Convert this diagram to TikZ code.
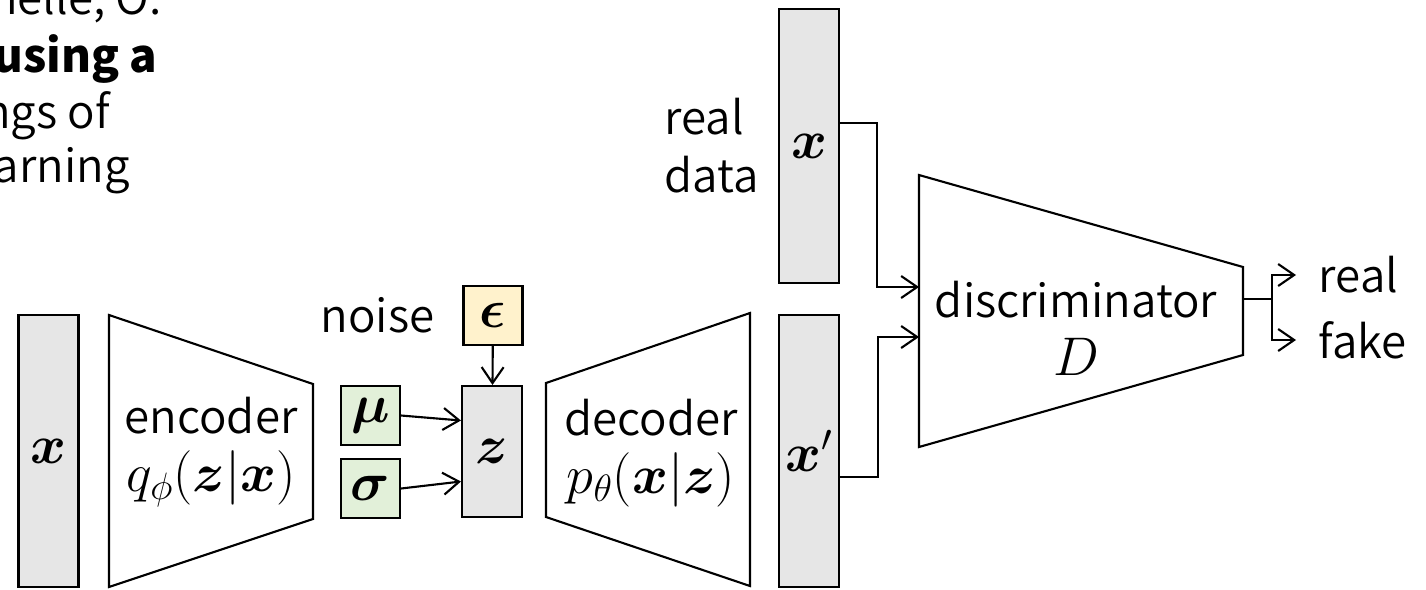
\RequirePackage{fix-cm}
\documentclass[tikz,border=0pt]{standalone}
\usepackage{amsmath}
\usepackage{fontspec}
\setmainfont{Noto Sans CJK JP DemiLight}
\newfontfamily\plainsans{Noto Sans CJK JP}
\usetikzlibrary{positioning,calc,arrows.meta}

\definecolor{barfill}{HTML}{E6E6E6}
\definecolor{parfill}{HTML}{E2F0D9}
\definecolor{noisefill}{HTML}{FFF2CC}

\newcommand{\mfont}{\fontsize{31}{36}\selectfont}

\tikzset{
  bar/.style={draw, fill=barfill, line width=1.2pt, minimum width=1.2cm, minimum height=5.44cm, inner sep=0pt},
  param/.style={draw, fill=parfill, line width=1.2pt, minimum size=1.18cm, inner sep=0pt},
  net/.style={draw, fill=white, line width=1.2pt},
  wire/.style={line width=1.2pt, -{Straight Barb[length=3.2mm,width=4.4mm]}},
}

\begin{document}
\begin{tikzpicture}[x=0.02cm, y=-0.02cm, font=\fontsize{26}{33}\selectfont]
    \useasboundingbox (0,0) rectangle (1426,589);
    \clip (0,0) rectangle (1426,589);

    % cut-off reference text
    \node[anchor=base east, inner sep=0pt] (ref1) at (162,14) {Larochelle, O.};
    \node[anchor=base east, inner sep=0pt, font=\fontsize{26}{33}\selectfont\plainsans\bfseries] (ref2) at (158,72) {pixels using a};
    \node[anchor=base east, inner sep=0pt] (ref3) at (110,128) {Proceedings of};
    \node[anchor=base east, inner sep=0pt] (ref4) at (130,182) {Learning};

    % encoder
    \node[bar] (xin) at (48.5,451) {\mfont$\boldsymbol{x}$};
    \draw[net] (109,315) -- (313,384) -- (313,519) -- (109,587) -- cycle;
    \node[align=center] (enc) at (211,452) {encoder\\\mfont$q_\phi(\boldsymbol{z}|\boldsymbol{x})$};
    \node[param] (mu) at (370.5,415.5) {\mfont$\boldsymbol{\mu}$};
    \node[param] (sigma) at (370.5,488.5) {\mfont$\boldsymbol{\sigma}$};

    % latent
    \node[bar, minimum height=2.62cm] (z) at (492,451.5) {\mfont$\boldsymbol{z}$};
    \node[param, fill=noisefill] (eps) at (493,315.5) {\mfont$\boldsymbol{\epsilon}$};
    \node[left=0.44cm of eps] (noise) {noise};

    % decoder
    \draw[net] (546,383) -- (750,313) -- (750,586) -- (546,517) -- cycle;
    \node[align=center] (dec) at (651,453) {decoder\\\mfont$p_\theta(\boldsymbol{x}|\boldsymbol{z})$};
    \node[bar] (xfake) at (809,451) {\mfont$\boldsymbol{x}'$};
    \node[bar, minimum height=5.48cm] (xreal) at (809,146) {\mfont$\boldsymbol{x}$};
    \node[left=0.26cm of xreal, align=left] (realdata) {real\\data};

    % discriminator
    \draw[net] (919,175) -- (1243,267) -- (1243,355) -- (919,447) -- cycle;
    \coordinate (din1) at (919,287);
    \coordinate (din2) at (919,337);
    \coordinate (dout) at (1243,299);
    \node[align=center] (disc) at (1076,328) {discriminator\\\mfont$D$};
    \node[anchor=west, inner xsep=0.45cm] (outreal) at (1296,275) {real};
    \node[anchor=west, inner xsep=0.45cm] (outfake) at (1296,340) {fake};

    \draw[wire] (mu.east) -- ($(z.west)+(0,-31)$);
    \draw[wire] (sigma.east) -- ($(z.west)+(0,30)$);
    \draw[wire] (eps) -- (z);
    \draw[wire] ($(xreal.east)+(0,-23)$) -- ++(37,0) |- (din1);
    \draw[wire] ($(xfake.east)+(0,26)$) -- ++(38,0) |- (din2);
    \draw[line width=1.2pt] (dout) -- ++(29,0) coordinate (fork);
    \draw[wire] (fork) |- (outreal.west);
    \draw[wire] (fork) |- (outfake.west);
\end{tikzpicture}
\end{document}
